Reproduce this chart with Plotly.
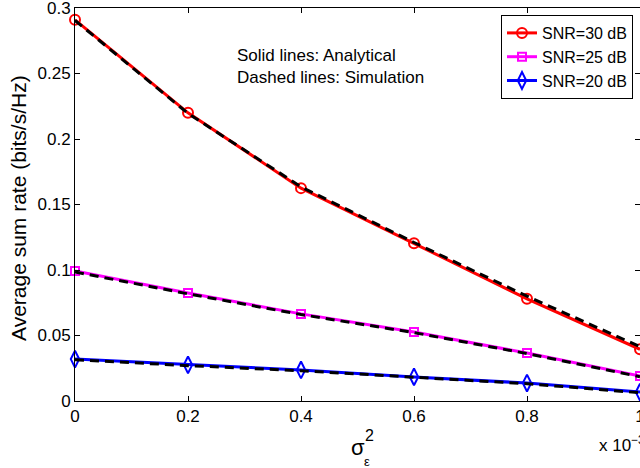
import plotly.graph_objects as go

# Channel-estimation error variance (x 10^-3)
sigma2 = [0, 0.2, 0.4, 0.6, 0.8, 1.0]

# Analytical average sum rate (bits/s/Hz)
ana_30 = [0.291, 0.220, 0.1625, 0.1205, 0.078, 0.0395]
ana_25 = [0.0992, 0.0825, 0.0665, 0.0527, 0.0366, 0.019]
ana_20 = [0.032, 0.0276, 0.0237, 0.0184, 0.0137, 0.0068]

# Simulated average sum rate (bits/s/Hz)
sim_30 = [0.2905, 0.2195, 0.1635, 0.1210, 0.0800, 0.0415]
sim_25 = [0.0985, 0.0818, 0.0660, 0.0522, 0.0362, 0.0185]
sim_20 = [0.0315, 0.0270, 0.0231, 0.0180, 0.0132, 0.0063]

series_names = ["SNR=30 dB", "SNR=25 dB", "SNR=20 dB"]
x_ticks = [0, 0.2, 0.4, 0.6, 0.8, 1.0]
x_tick_text = ["0", "0.2", "0.4", "0.6", "0.8", "1"]
y_ticks = [0, 0.05, 0.1, 0.15, 0.2, 0.25, 0.3]
y_tick_text = ["0", "0.05", "0.1", "0.15", "0.2", "0.25", "0.3"]

FONT = "Liberation Sans, Arial, Helvetica, sans-serif"
W, H = 640, 468
L, R, T, B = 75, 0, 8, 67
PW, PH = W - L - R, H - T - B


def px(x):
    return (x - L) / PW


def py(y):
    return (H - B - y) / PH


fig = go.Figure()

styles = [
    ("#ff0000", "circle-open", 10),
    ("#ff00ff", "square-open", 8),
    ("#0000ff", "diamond-tall-open", 12),
]

for name, ana, (color, sym, size) in zip(series_names, [ana_30, ana_25, ana_20], styles):
    fig.add_trace(go.Scatter(
        x=sigma2, y=ana, mode="lines+markers", name=name,
        line=dict(color=color, width=3),
        marker=dict(symbol=sym, size=size, color=color, line=dict(color=color, width=2)),
        cliponaxis=False,
    ))

for sim in [sim_30, sim_25, sim_20]:
    fig.add_trace(go.Scatter(
        x=sigma2, y=sim, mode="lines", showlegend=False,
        line=dict(color="black", width=3, dash="9px,6px"),
        cliponaxis=False,
    ))

axis_common = dict(
    showline=True, linecolor="black", linewidth=1, mirror="ticks",
    ticks="inside", ticklen=5, tickcolor="black", tickwidth=1,
    showgrid=False, zeroline=False, ticklabeloverflow="allow",
    automargin=False,
    tickfont=dict(family=FONT, size=17, color="black"),
)

fig.update_xaxes(range=[0, 1], tickvals=x_ticks, ticktext=x_tick_text, **axis_common)
fig.update_yaxes(range=[0, 0.3], tickvals=y_ticks, ticktext=y_tick_text, **axis_common)

fig.update_layout(
    width=W, height=H,
    margin=dict(l=L, r=R, t=T, b=B),
    plot_bgcolor="white", paper_bgcolor="white",
    font=dict(family=FONT, size=17, color="black"),
    legend=dict(
        x=px(633), y=py(15), xanchor="right", yanchor="top",
        bgcolor="white", bordercolor="black", borderwidth=1,
        font=dict(family=FONT, size=16, color="black"),
        tracegroupgap=0,
    ),
    annotations=[
        dict(text="Average sum rate (bits/s/Hz)", textangle=-90,
             xref="paper", yref="paper", x=px(18), y=py(208),
             xanchor="center", yanchor="middle", showarrow=False,
             font=dict(family=FONT, size=21, color="black")),
        dict(text="Solid lines: Analytical<br>Dashed lines: Simulation",
             xref="paper", yref="paper",
             x=px(235), y=py(67), xanchor="left", yanchor="middle",
             align="left", showarrow=False,
             font=dict(family=FONT, size=17, color="black")),
        dict(text="σ", xref="paper", yref="paper",
             x=px(358), y=py(447), xanchor="center", yanchor="middle",
             showarrow=False, font=dict(family=FONT, size=22, color="black")),
        dict(text="2", xref="paper", yref="paper",
             x=px(369), y=py(435), xanchor="center", yanchor="middle",
             showarrow=False, font=dict(family=FONT, size=16, color="black")),
        dict(text="ε", xref="paper", yref="paper",
             x=px(367), y=py(461), xanchor="center", yanchor="middle",
             showarrow=False, font=dict(family=FONT, size=13, color="black")),
        dict(text="x 10<sup>−3</sup>", xref="paper", yref="paper",
             x=px(597), y=py(444), xanchor="left", yanchor="middle",
             showarrow=False, font=dict(family=FONT, size=17, color="black")),
    ],
)

fig.write_html("out.html")
